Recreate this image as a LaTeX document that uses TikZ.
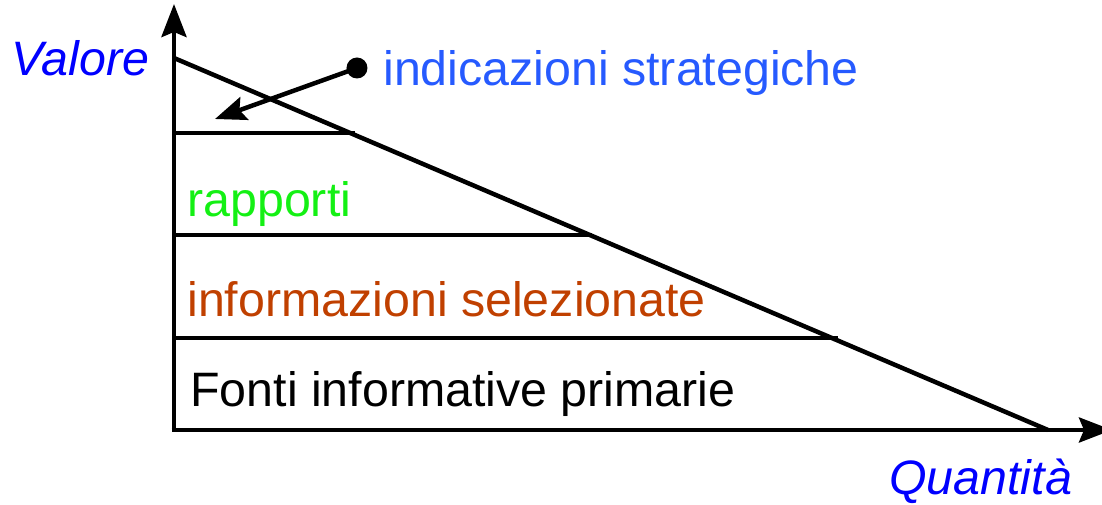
\documentclass[tikz,border=0pt]{standalone}
\usepackage{fontspec}
\setmainfont{Liberation Sans}
\usetikzlibrary{arrows.meta, calc}
\definecolor{axisblue}{RGB}{0,0,255}
\definecolor{stratblue}{RGB}{38,90,255}
\definecolor{repgreen}{RGB}{20,240,20}
\definecolor{selbrown}{RGB}{192,64,0}
\tikzset{
  axis/.style  = {-{Stealth[length=0.66cm, width=0.5cm, inset=0.1cm]}, line width=0.09cm},
  arr/.style   = {-{Stealth[length=0.62cm, width=0.48cm, inset=0.1cm]}, line width=0.09cm},
  level/.style = {line width=0.09cm},
  lbl/.style   = {font=\fontsize{27.5}{32}\selectfont, inner sep=0pt, anchor=base west},
  dot/.style   = {circle, fill=black, minimum size=0.42cm, inner sep=0pt}
}

\begin{document}
\begin{tikzpicture}
  \useasboundingbox (-3.48,-1.5) rectangle (18.56,8.6);

  % ── Axes ──────────────────────────────────────────────────────────────────
  \coordinate (O)    at (0,0);
  \coordinate (Ytop) at (0,8.52);
  \coordinate (Xend) at (18.76,0);
  \draw[axis] (O) -- (Ytop);
  \draw[axis] ($(O)+(-0.045,0)$) -- (Xend);

  % ── Value / quantity diagonal ─────────────────────────────────────────────
  \coordinate (Dtop) at (0,7.44);
  \coordinate (Dbot) at (17.48,0);
  \draw[level] (Dtop) -- (Dbot);

  % ── Levels ────────────────────────────────────────────────────────────────
  \coordinate (Lstr) at (3.62,5.94);
  \coordinate (Lrap) at (8.36,3.90);
  \coordinate (Lsel) at (13.28,1.84);
  \draw[level] (O |- Lstr) -- (Lstr);
  \draw[level] (O |- Lrap) -- (Lrap);
  \draw[level] (O |- Lsel) -- (Lsel);

  % ── Labels ────────────────────────────────────────────────────────────────
  \node[lbl, text=axisblue, font=\fontsize{27.5}{32}\selectfont\itshape]
        (Valore) at (-3.26,7.08) {Valore};
  \node[lbl, text=axisblue, font=\fontsize{27.5}{32}\selectfont\itshape]
        (Quant) at (14.30,-1.28) {Quantità};
  \node[lbl, text=repgreen] (Rap) at (0.26,4.26) {rapporti};
  \node[lbl, text=selbrown] (Sel) at (0.26,2.26) {informazioni selezionate};
  \node[lbl]                (Fon) at (0.32,0.46) {Fonti informative primarie};

  % strategic hint with pointer
  \node[dot] (Pin) at (3.66,7.24) {};
  \node[lbl, text=stratblue] (Str) at (4.18,6.88) {indicazioni strategiche};
  \coordinate (PinEnd) at (0.82,6.22);
  \draw[arr] (Pin.center) -- (PinEnd);

\end{tikzpicture}
\end{document}
